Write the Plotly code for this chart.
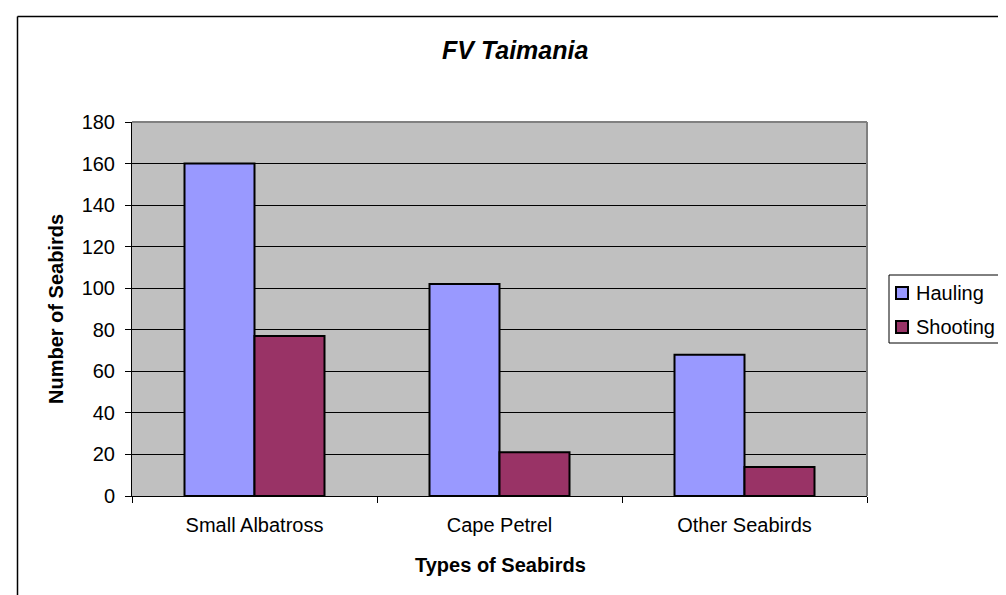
import plotly.graph_objects as go

categories = ["Small Albatross", "Cape Petrel", "Other Seabirds"]
hauling = [160, 102, 68]
shooting = [77, 21, 14]
y_ticks = [0, 20, 40, 60, 80, 100, 120, 140, 160, 180]
series_names = ["Hauling", "Shooting"]
series_colors = ["#9999FF", "#993366"]

W, H = 1006, 595
L, R, T, B = 124, 147, 114, 107
pw = W - L - R
ph = H - T - B

def px(xp):
    return (xp - L) / pw

def py(yp):
    return (H - B - yp) / ph

FONT = "Liberation Sans, Arial, sans-serif"

fig = go.Figure()
for name, vals, col in zip(series_names, [hauling, shooting], series_colors):
    fig.add_trace(go.Bar(name=name, x=categories, y=vals,
                         marker=dict(color=col, line=dict(color="#000000", width=2))))

fig.update_layout(
    width=W, height=H,
    margin=dict(l=L, r=R, t=T, b=B, autoexpand=False),
    paper_bgcolor="white",
    plot_bgcolor="#C0C0C0",
    barmode="group",
    bargap=0.4286,
    bargroupgap=0,
    font=dict(family=FONT, size=20, color="black"),
    showlegend=False,
)

fig.update_xaxes(
    showline=True, linecolor="black", linewidth=1,
    ticks="outside", ticklen=6, tickcolor="black", tickson="boundaries",
    tickfont=dict(family=FONT, size=20, color="black"),
    ticklabelstandoff=11,
    showgrid=False, zeroline=False,
)
fig.update_yaxes(
    range=[0, 180], tickvals=y_ticks, ticktext=[str(v) for v in y_ticks],
    showline=True, linecolor="black", linewidth=1,
    ticks="outside", ticklen=6, tickcolor="black",
    tickfont=dict(family=FONT, size=20, color="black"),
    ticklabelstandoff=6,
    showgrid=True, gridcolor="black", gridwidth=1, zeroline=False,
)

shapes = [
    # plot area top / right border (gray)
    dict(type="line", xref="paper", yref="paper", x0=0, x1=1, y0=1, y1=1,
         line=dict(color="#808080", width=2), layer="above"),
    dict(type="line", xref="paper", yref="paper", x0=1, x1=1, y0=0, y1=1,
         line=dict(color="#808080", width=2), layer="above"),
    # outer chart border (left and top visible)
    dict(type="line", xref="paper", yref="paper", x0=px(9.5), x1=px(9.5), y0=py(8.5), y1=py(700),
         line=dict(color="#000000", width=1.5)),
    dict(type="line", xref="paper", yref="paper", x0=px(9.5), x1=px(1100), y0=py(8.5), y1=py(8.5),
         line=dict(color="#000000", width=1.5)),
    # legend box
    dict(type="rect", xref="paper", yref="paper", x0=px(881), x1=px(1003), y0=py(267), y1=py(335),
         line=dict(color="#000000", width=1), fillcolor="white", layer="above"),
]

annotations = [
    dict(text="<b><i>FV Taimania</i></b>", xref="paper", yref="paper",
         x=px(507), y=py(42), xanchor="center", yanchor="middle", showarrow=False,
         font=dict(family=FONT, size=25, color="black")),
    dict(text="<b>Types of Seabirds</b>", xref="paper", yref="paper",
         x=px(492), y=py(557), xanchor="center", yanchor="middle", showarrow=False,
         font=dict(family=FONT, size=20, color="black")),
    dict(text="<b>Number of Seabirds</b>", xref="paper", yref="paper",
         x=px(48), y=py(301), xanchor="center", yanchor="middle", showarrow=False,
         textangle=-90, font=dict(family=FONT, size=20, color="black")),
]

# legend entries
item_y = [285, 319]
for name, col, yc in zip(series_names, series_colors, item_y):
    shapes.append(dict(type="rect", xref="paper", yref="paper",
                       x0=px(888), x1=px(900), y0=py(yc - 6), y1=py(yc + 6),
                       line=dict(color="#000000", width=2), fillcolor=col, layer="above"))
    annotations.append(dict(text=name, xref="paper", yref="paper",
                            x=px(906), y=py(yc), xanchor="left", yanchor="middle",
                            showarrow=False, font=dict(family=FONT, size=20, color="black")))

fig.update_layout(shapes=shapes, annotations=annotations)

fig.write_html("out.html")
